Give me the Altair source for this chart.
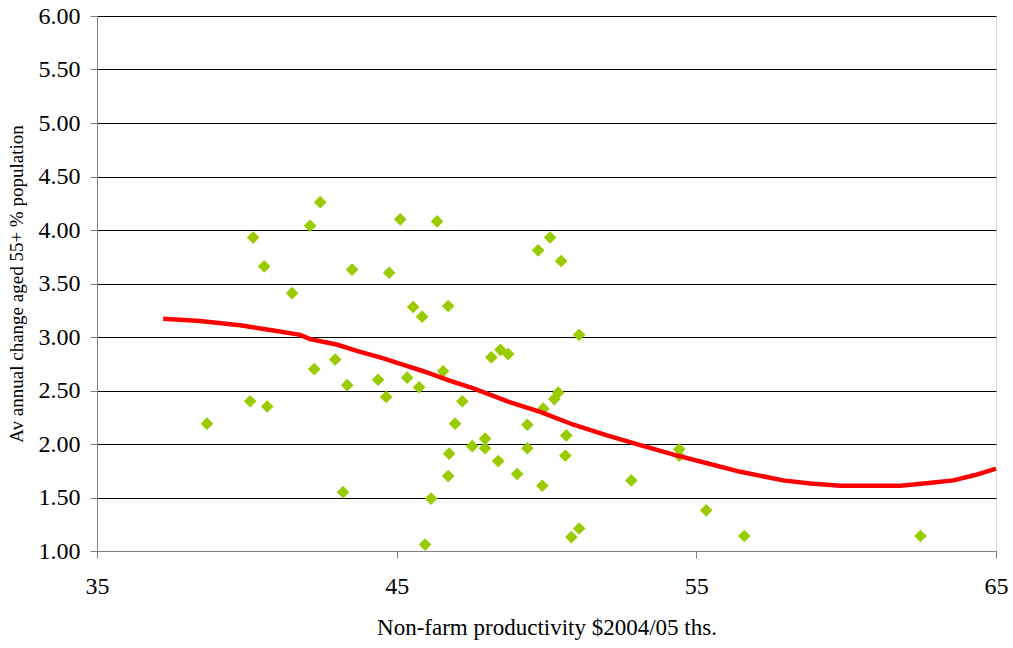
import altair as alt
import pandas as pd

# Scatter: non-farm productivity vs. average annual change in 55+ share
prod = [38.67, 40.11, 40.21, 40.58, 40.68, 41.51, 42.11, 42.25, 42.45, 42.95,
        43.21, 43.35, 43.51, 44.38, 44.65, 44.75, 45.12, 45.35, 45.55, 45.75,
        45.85, 45.95, 46.15, 46.35, 46.55, 46.72, 46.72, 46.75, 46.95, 47.19,
        47.52, 47.95, 47.95, 48.16, 48.39, 48.46, 48.72, 49.02, 49.36, 49.36,
        49.72, 49.86, 49.89, 50.12, 50.26, 50.39, 50.49, 50.63, 50.66, 50.83,
        51.09, 51.09, 52.83, 54.43, 54.43, 55.33, 56.60, 62.48]
change = [2.19, 2.40, 3.93, 3.66, 2.35, 3.41, 4.04, 2.70, 4.26, 2.79,
          1.55, 2.55, 3.63, 2.60, 2.44, 3.60, 4.10, 2.62, 3.28, 2.53,
          3.19, 1.06, 1.49, 4.08, 2.68, 3.29, 1.70, 1.91, 2.19, 2.40,
          1.98, 2.05, 1.96, 2.81, 1.84, 2.88, 2.84, 1.72, 2.18, 1.96,
          3.81, 1.61, 2.33, 3.93, 2.42, 2.48, 3.71, 1.89, 2.08, 1.13,
          1.21, 3.02, 1.66, 1.95, 1.89, 1.38, 1.14, 1.14]

# Smoothed trend
trend_x = [37.21, 38.44, 39.77, 40.89, 41.78, 42.11, 43.00, 43.67, 44.56,
           45.23, 45.89, 46.79, 47.56, 48.68, 49.79, 50.90, 52.02, 53.13,
           54.24, 55.36, 56.47, 57.90, 58.80, 59.81, 60.80, 61.81, 62.91,
           63.58, 64.30, 65.00]
trend_y = [3.17, 3.15, 3.11, 3.06, 3.02, 2.98, 2.93, 2.87, 2.80,
           2.74, 2.68, 2.59, 2.52, 2.40, 2.30, 2.18, 2.08, 1.99,
           1.90, 1.82, 1.74, 1.66, 1.63, 1.61, 1.61, 1.61, 1.64,
           1.66, 1.71, 1.77]

y_ticks = [1.0, 1.5, 2.0, 2.5, 3.0, 3.5, 4.0, 4.5, 5.0, 5.5, 6.0]
x_ticks = [35, 45, 55, 65]

pts = pd.DataFrame({"prod": prod, "change": change})
trend = pd.DataFrame({"prod": trend_x, "change": trend_y})

FONT = "Liberation Serif"

x_enc = alt.X(
    "prod:Q",
    scale=alt.Scale(domain=[35, 65], nice=False, zero=False),
    axis=alt.Axis(
        values=x_ticks, title="Non-farm productivity $2004/05 ths.",
        grid=False, domainColor="#808080", tickColor="#808080",
        tickSize=7, labelPadding=16, labelFontSize=24, titleFontSize=23,
        titlePadding=18, titleFontWeight="normal", labelColor="black",
        titleColor="black", labelFont=FONT, titleFont=FONT,
        labelFlush=False, labelOverlap=False, labelBound=False,
    ),
)
y_enc = alt.Y(
    "change:Q",
    scale=alt.Scale(domain=[1, 6], nice=False, zero=False),
    axis=alt.Axis(
        values=y_ticks, format=".2f",
        title="Av annual change aged 55+ % population",
        grid=True, gridColor="black", gridWidth=1,
        domainColor="#808080", tickColor="#808080", tickSize=7,
        labelPadding=10, labelFontSize=24, titleFontSize=19,
        titlePadding=12, titleFontWeight="normal", labelColor="black",
        titleColor="black", labelFont=FONT, titleFont=FONT,
        labelFlush=False, labelOverlap=False, labelBound=False,
    ),
)

scatter = alt.Chart(pts).mark_point(
    shape="diamond", filled=True, color="#99CC00", size=160, opacity=1
).encode(x=x_enc, y=y_enc)

line = alt.Chart(trend).mark_line(
    color="#FF0000", strokeWidth=4.5, interpolate="linear"
).encode(x="prod:Q", y="change:Q")

chart = (
    alt.layer(scatter, line)
    .properties(
        width=899, height=535,
        autosize=alt.AutoSizeParams(type="none"),
        padding={"left": 97, "top": 16, "right": 17, "bottom": 97},
    )
    .configure_view(stroke="#808080", strokeWidth=1)
    .configure(background="white")
)

chart.save("out.html", embed_options={"renderer": "svg", "actions": False})
